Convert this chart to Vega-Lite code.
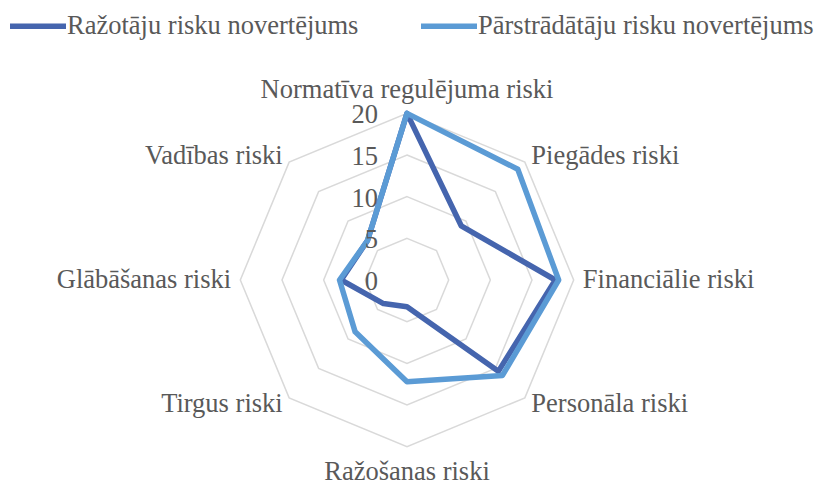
{
  "$schema": "https://vega.github.io/schema/vega-lite/v6.json",
  "width": 821,
  "height": 483,
  "autosize": {"type": "none"},
  "padding": 0,
  "background": "white",
  "config": {"view": {"stroke": null}, "font": "Liberation Serif"},
  "datasets": {
    "riski": [
      {"kategorija": "Normatīva regulējuma riski", "idx": 0, "serija": "Ražotāju risku novertējums", "vertiba": 20},
      {"kategorija": "Piegādes riski", "idx": 1, "serija": "Ražotāju risku novertējums", "vertiba": 9.2},
      {"kategorija": "Financiālie riski", "idx": 2, "serija": "Ražotāju risku novertējums", "vertiba": 17.8},
      {"kategorija": "Personāla riski", "idx": 3, "serija": "Ražotāju risku novertējums", "vertiba": 15.5},
      {"kategorija": "Ražošanas riski", "idx": 4, "serija": "Ražotāju risku novertējums", "vertiba": 3.2},
      {"kategorija": "Tirgus riski", "idx": 5, "serija": "Ražotāju risku novertējums", "vertiba": 4.0},
      {"kategorija": "Glābāšanas riski", "idx": 6, "serija": "Ražotāju risku novertējums", "vertiba": 7.9},
      {"kategorija": "Vadības riski", "idx": 7, "serija": "Ražotāju risku novertējums", "vertiba": 6.7},
      {"kategorija": "Normatīva regulējuma riski", "idx": 0, "serija": "Pārstrādātāju risku novertējums", "vertiba": 20},
      {"kategorija": "Piegādes riski", "idx": 1, "serija": "Pārstrādātāju risku novertējums", "vertiba": 18.8},
      {"kategorija": "Financiālie riski", "idx": 2, "serija": "Pārstrādātāju risku novertējums", "vertiba": 18.2},
      {"kategorija": "Personāla riski", "idx": 3, "serija": "Pārstrādātāju risku novertējums", "vertiba": 16.2},
      {"kategorija": "Ražošanas riski", "idx": 4, "serija": "Pārstrādātāju risku novertējums", "vertiba": 12.2},
      {"kategorija": "Tirgus riski", "idx": 5, "serija": "Pārstrādātāju risku novertējums", "vertiba": 8.8},
      {"kategorija": "Glābāšanas riski", "idx": 6, "serija": "Pārstrādātāju risku novertējums", "vertiba": 8.1},
      {"kategorija": "Vadības riski", "idx": 7, "serija": "Pārstrādātāju risku novertējums", "vertiba": 6.7}
    ],
    "kategorijas": [
      {"kategorija": "Normatīva regulējuma riski", "idx": 0},
      {"kategorija": "Piegādes riski", "idx": 1},
      {"kategorija": "Financiālie riski", "idx": 2},
      {"kategorija": "Personāla riski", "idx": 3},
      {"kategorija": "Ražošanas riski", "idx": 4},
      {"kategorija": "Tirgus riski", "idx": 5},
      {"kategorija": "Glābāšanas riski", "idx": 6},
      {"kategorija": "Vadības riski", "idx": 7}
    ],
    "rezgis": [
      {"limenis": 5, "idx": 0}, {"limenis": 5, "idx": 1}, {"limenis": 5, "idx": 2}, {"limenis": 5, "idx": 3},
      {"limenis": 5, "idx": 4}, {"limenis": 5, "idx": 5}, {"limenis": 5, "idx": 6}, {"limenis": 5, "idx": 7},
      {"limenis": 10, "idx": 0}, {"limenis": 10, "idx": 1}, {"limenis": 10, "idx": 2}, {"limenis": 10, "idx": 3},
      {"limenis": 10, "idx": 4}, {"limenis": 10, "idx": 5}, {"limenis": 10, "idx": 6}, {"limenis": 10, "idx": 7},
      {"limenis": 15, "idx": 0}, {"limenis": 15, "idx": 1}, {"limenis": 15, "idx": 2}, {"limenis": 15, "idx": 3},
      {"limenis": 15, "idx": 4}, {"limenis": 15, "idx": 5}, {"limenis": 15, "idx": 6}, {"limenis": 15, "idx": 7},
      {"limenis": 20, "idx": 0}, {"limenis": 20, "idx": 1}, {"limenis": 20, "idx": 2}, {"limenis": 20, "idx": 3},
      {"limenis": 20, "idx": 4}, {"limenis": 20, "idx": 5}, {"limenis": 20, "idx": 6}, {"limenis": 20, "idx": 7}
    ],
    "limeni": [{"limenis": 0}, {"limenis": 5}, {"limenis": 10}, {"limenis": 15}, {"limenis": 20}]
  },
  "layer": [
    {
      "data": {"name": "rezgis"},
      "transform": [
        {"calculate": "datum.limenis*sin(datum.idx*PI/4)", "as": "px"},
        {"calculate": "datum.limenis*cos(datum.idx*PI/4)", "as": "py"}
      ],
      "mark": {"type": "line", "interpolate": "linear-closed", "stroke": "#D9D9D9", "strokeWidth": 1.5},
      "encoding": {
        "x": {"field": "px", "type": "quantitative", "scale": {"domain": [-48.84, 49.68], "nice": false, "zero": false}, "axis": null},
        "y": {"field": "py", "type": "quantitative", "scale": {"domain": [-24.36, 33.6], "nice": false, "zero": false}, "axis": null},
        "detail": {"field": "limenis"},
        "order": {"field": "idx"}
      }
    },
    {
      "data": {"name": "riski"},
      "transform": [
        {"calculate": "datum.vertiba*sin(datum.idx*PI/4)", "as": "px"},
        {"calculate": "datum.vertiba*cos(datum.idx*PI/4)", "as": "py"}
      ],
      "mark": {"type": "line", "interpolate": "linear-closed", "strokeWidth": 5.5, "strokeJoin": "round"},
      "encoding": {
        "x": {"field": "px", "type": "quantitative", "scale": {"domain": [-48.84, 49.68], "nice": false, "zero": false}, "axis": null},
        "y": {"field": "py", "type": "quantitative", "scale": {"domain": [-24.36, 33.6], "nice": false, "zero": false}, "axis": null},
        "color": {
          "field": "serija",
          "type": "nominal",
          "sort": ["Ražotāju risku novertējums", "Pārstrādātāju risku novertējums"],
          "scale": {"domain": ["Ražotāju risku novertējums", "Pārstrādātāju risku novertējums"], "range": ["#4565AE", "#5B9BD5"]},
          "legend": {
            "orient": "none", "legendX": 7, "legendY": -5, "direction": "horizontal", "title": null,
            "symbolType": "stroke", "symbolSize": 3136, "symbolStrokeWidth": 5.5,
            "labelFont": "Liberation Serif", "labelFontSize": 26.5, "labelColor": "#595959",
            "labelLimit": 0, "labelOffset": -2, "columnPadding": 51, "padding": 0
          }
        },
        "order": {"field": "idx"}
      }
    },
    {
      "data": {"name": "limeni"},
      "transform": [{"calculate": "0", "as": "px"}],
      "mark": {"type": "text", "align": "right", "baseline": "middle", "dx": -29, "dy": 2, "fontSize": 26.5, "color": "#595959", "font": "Liberation Serif"},
      "encoding": {
        "x": {"field": "px", "type": "quantitative", "scale": {"domain": [-48.84, 49.68], "nice": false, "zero": false}, "axis": null},
        "y": {"field": "limenis", "type": "quantitative", "scale": {"domain": [-24.36, 33.6], "nice": false, "zero": false}, "axis": null},
        "text": {"field": "limenis", "type": "quantitative"}
      }
    },
    {
      "data": {"name": "kategorijas"},
      "transform": [
        {"filter": "datum.idx == 0"},
        {"calculate": "21.1*sin(datum.idx*PI/4)", "as": "px"},
        {"calculate": "21.1*cos(datum.idx*PI/4)", "as": "py"}
      ],
      "mark": {"type": "text", "align": "center", "baseline": "middle", "dy": -14, "fontSize": 26.5, "color": "#595959", "font": "Liberation Serif"},
      "encoding": {
        "x": {"field": "px", "type": "quantitative", "scale": {"domain": [-48.84, 49.68], "nice": false, "zero": false}, "axis": null},
        "y": {"field": "py", "type": "quantitative", "scale": {"domain": [-24.36, 33.6], "nice": false, "zero": false}, "axis": null},
        "text": {"field": "kategorija"}
      }
    },
    {
      "data": {"name": "kategorijas"},
      "transform": [
        {"filter": "datum.idx == 4"},
        {"calculate": "21.1*sin(datum.idx*PI/4)", "as": "px"},
        {"calculate": "21.1*cos(datum.idx*PI/4)", "as": "py"}
      ],
      "mark": {"type": "text", "align": "center", "baseline": "middle", "dy": 16, "fontSize": 26.5, "color": "#595959", "font": "Liberation Serif"},
      "encoding": {
        "x": {"field": "px", "type": "quantitative", "scale": {"domain": [-48.84, 49.68], "nice": false, "zero": false}, "axis": null},
        "y": {"field": "py", "type": "quantitative", "scale": {"domain": [-24.36, 33.6], "nice": false, "zero": false}, "axis": null},
        "text": {"field": "kategorija"}
      }
    },
    {
      "data": {"name": "kategorijas"},
      "transform": [
        {"filter": "datum.idx >= 1 && datum.idx <= 3"},
        {"calculate": "21.1*sin(datum.idx*PI/4)", "as": "px"},
        {"calculate": "21.1*cos(datum.idx*PI/4)", "as": "py"}
      ],
      "mark": {"type": "text", "align": "left", "baseline": "middle", "fontSize": 26.5, "color": "#595959", "font": "Liberation Serif"},
      "encoding": {
        "x": {"field": "px", "type": "quantitative", "scale": {"domain": [-48.84, 49.68], "nice": false, "zero": false}, "axis": null},
        "y": {"field": "py", "type": "quantitative", "scale": {"domain": [-24.36, 33.6], "nice": false, "zero": false}, "axis": null},
        "text": {"field": "kategorija"}
      }
    },
    {
      "data": {"name": "kategorijas"},
      "transform": [
        {"filter": "datum.idx >= 5"},
        {"calculate": "21.1*sin(datum.idx*PI/4)", "as": "px"},
        {"calculate": "21.1*cos(datum.idx*PI/4)", "as": "py"}
      ],
      "mark": {"type": "text", "align": "right", "baseline": "middle", "fontSize": 26.5, "color": "#595959", "font": "Liberation Serif"},
      "encoding": {
        "x": {"field": "px", "type": "quantitative", "scale": {"domain": [-48.84, 49.68], "nice": false, "zero": false}, "axis": null},
        "y": {"field": "py", "type": "quantitative", "scale": {"domain": [-24.36, 33.6], "nice": false, "zero": false}, "axis": null},
        "text": {"field": "kategorija"}
      }
    }
  ]
}
